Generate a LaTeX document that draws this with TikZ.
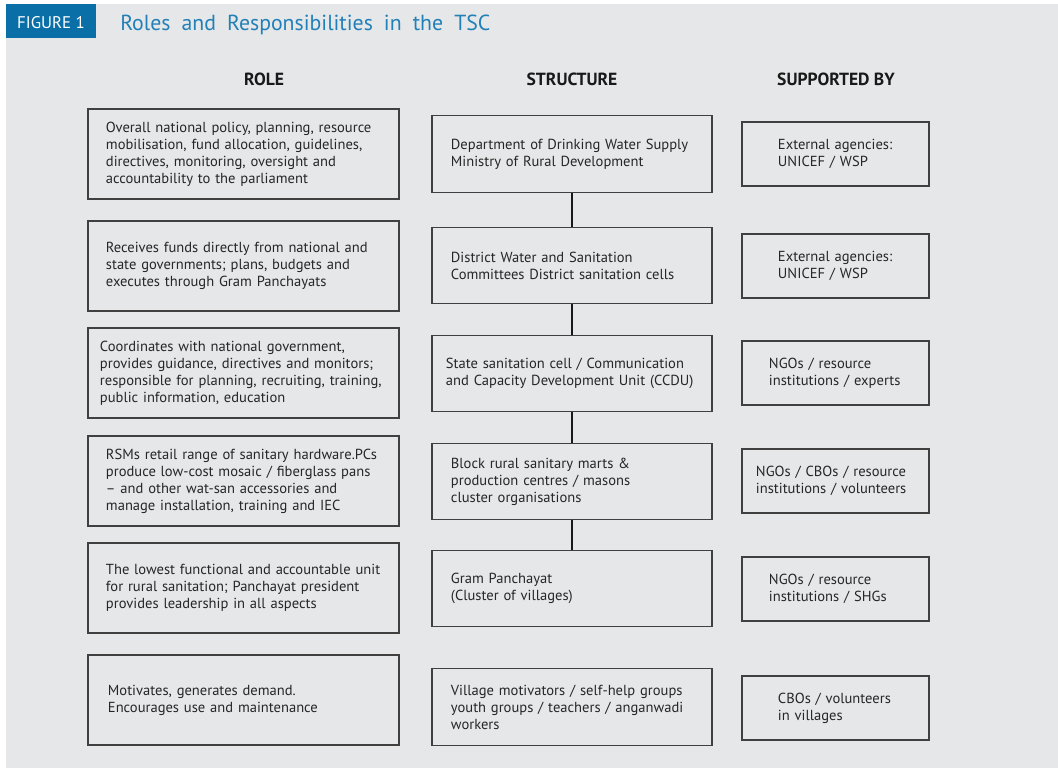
\documentclass[tikz,border=0pt]{standalone}
\usepackage{fontspec}
\setmainfont{PT Sans}
\newfontfamily\titlefont[WordSpace=1.9]{PT Sans}
\usepackage{tikz}
\usetikzlibrary{positioning}

\definecolor{panelgray}{HTML}{E6E7E8}
\definecolor{figblue}{HTML}{0A6FA6}
\definecolor{titleblue}{HTML}{2280B8}
\definecolor{boxline}{HTML}{404040}

\begin{document}
\begin{tikzpicture}[
        x=0.025cm, y=-0.025cm,
        every node/.style={font=\fontsize{10.35}{12.1}\selectfont, text=black!85},
        box/.style={draw=boxline, line width=0.8pt, inner xsep=0pt, align=left},
        rolebox/.style={box, minimum width=7.775cm, minimum height=2.25cm, text width=#1},
        rolebox/.default=6.875cm,
        structbox/.style={box, minimum width=7cm, minimum height=1.92cm, text width=#1},
        structbox/.default=6.05cm,
        suppbox/.style={box, minimum width=4.675cm, minimum height=1.6cm, text width=#1},
        suppbox/.default=2.875cm,
        colhead/.style={font=\fontsize{12.5}{14}\selectfont\bfseries, text=black!90},
        link/.style={line width=1.4pt, black!90},
    ]

    %Draw the panel and the heading
    \useasboundingbox (0,0) rectangle (1058,768);
    \fill [panelgray] (6,4) rectangle (1058,768);
    \fill [figblue] (6,4) rectangle (96,38);
    \node [text=white, font=\fontsize{12}{13}\selectfont] (fig) at (51,23) {FIGURE 1};
    \node [anchor=west, inner sep=0pt, text=titleblue, font=\titlefont\fontsize{15.5}{18}\selectfont] (title) at (120,25) {Roles and Responsibilities in the TSC};

    %Draw the column headings
    \node [colhead] (hrole) at (264,79) {ROLE};
    \node [colhead] (hstruct) at (572,79) {STRUCTURE};
    \node [colhead] (hsupp) at (836,79) {SUPPORTED BY};

    %Draw the role boxes
    \node [rolebox] (r1) at (243.5,154) {Overall national policy, planning, resource\\ mobilisation, fund allocation, guidelines,\\ directives, monitoring, oversight and\\ accountability to the parliament};
    \node [rolebox] (r2) at (243.5,266) {Receives funds directly from national and\\ state governments; plans, budgets and\\ executes through Gram Panchayats};
    \node [rolebox=7.175cm] (r3) at (243.5,373) {Coordinates with national government,\\ provides guidance, directives and monitors;\\ responsible for planning, recruiting, training,\\ public information, education};
    \node [rolebox] (r4) at (243.5,481) {RSMs retail range of sanitary hardware.PCs\\ produce low-cost mosaic / fiberglass pans\\ -- and other wat-san accessories and\\ manage installation, training and IEC};
    \node [rolebox] (r5) at (243.5,588) {The lowest functional and accountable unit\\ for rural sanitation; Panchayat president\\ provides leadership in all aspects};
    \node [rolebox=6.775cm] (r6) at (243.5,700) {Motivates, generates demand.\\ Encourages use and maintenance};

    %Draw the structure boxes
    \node [structbox] (s1) at (572,154) {Department of Drinking Water Supply\\ Ministry of Rural Development\\[5pt]};
    \node [structbox] (s2) at (572,265.5) {District Water and Sanitation\\ Committees District sanitation cells};
    \node [structbox=6.3cm] (s3) at (572,373.5) {State sanitation cell / Communication\\ and Capacity Development Unit (CCDU)\\[3pt]};
    \node [structbox] (s4) at (572,481.5) {Block rural sanitary marts \&\\ production centres / masons\\ cluster organisations};
    \node [structbox] (s5) at (572,588.5) {Gram Panchayat\\ (Cluster of villages)\\[3pt]};
    \node [structbox] (s6) at (572,707) {Village motivators / self-help groups\\ youth groups / teachers / anganwadi\\ workers};

    %Draw the supporting boxes
    \node [suppbox] (p1) at (835.5,154) {External agencies:\\ UNICEF / WSP\\[3pt]};
    \node [suppbox] (p2) at (835.5,266) {External agencies:\\ UNICEF / WSP\\[3pt]};
    \node [suppbox=3.325cm] (p3) at (835.5,373) {NGOs / resource\\ institutions / experts};
    \node [suppbox=3.975cm] (p4) at (835.5,481) {NGOs / CBOs / resource\\ institutions / volunteers};
    \node [suppbox=3.325cm] (p5) at (835.5,589) {NGOs / resource\\ institutions / SHGs};
    \node [suppbox] (p6) at (835.5,708) {CBOs / volunteers\\ in villages\\[3pt]};

    %Draw the links down the structure column
    \foreach \a/\b in {s1/s2,s2/s3,s3/s4,s4/s5}
        \draw [link] (\a.south) -- (\b.north);
\end{tikzpicture}
\end{document}
